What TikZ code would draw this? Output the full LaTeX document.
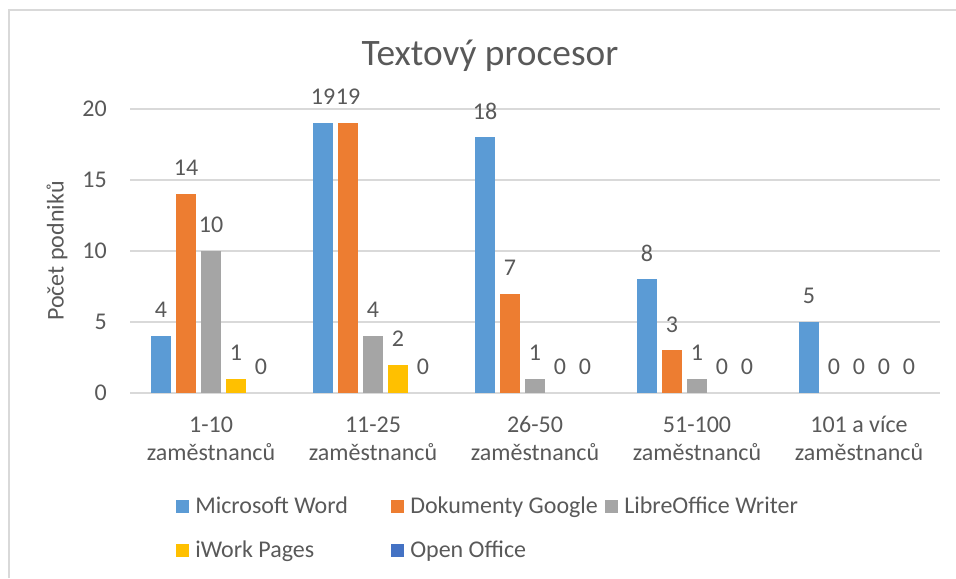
\documentclass[tikz,border=0pt]{standalone}
\usepackage{fontspec}
\setmainfont{Carlito}

\definecolor{txtgray}{HTML}{595959}
\definecolor{gridgray}{HTML}{D9D9D9}
\definecolor{wordblue}{HTML}{5B9BD5}
\definecolor{googleorange}{HTML}{ED7D31}
\definecolor{libregray}{HTML}{A5A5A5}
\definecolor{iworkgold}{HTML}{FFC000}
\definecolor{ooblue}{HTML}{4472C4}

\tikzset{
  val/.style={text=txtgray, font=\fontsize{18}{20}\selectfont, inner sep=0pt},
  cat/.style={text=txtgray, font=\fontsize{18}{20.8}\selectfont, align=center, inner sep=0pt},
  leg/.style={text=txtgray, font=\fontsize{18}{20}\selectfont, inner sep=0pt, anchor=base west},
  gridline/.style={gridgray, line width=1.1pt}
}

\begin{document}
\begin{tikzpicture}[x=0.75pt, y=-0.75pt]
      \useasboundingbox (0,0) rectangle (956,578);
      \draw[gridgray, line width=0.8pt] (9,578) -- (9,10) -- (956,10);

      % title and axes
      \node[text=txtgray, font=\fontsize{28}{32}\selectfont, inner sep=0pt, anchor=base] (title) at (490,65) {Textový procesor};
      \node[val, rotate=90] (ytitle) at (57,251) {Počet podniků};

      \draw[gridline] (130,393) -- (940,393);
      \draw[gridline] (130,322) -- (940,322);
      \draw[gridline] (130,251) -- (940,251);
      \draw[gridline] (130,180) -- (940,180);
      \draw[gridline] (130,109) -- (940,109);
      \node[val, anchor=east] (y0) at (107,393) {0};
      \node[val, anchor=east] (y5) at (107,322) {5};
      \node[val, anchor=east] (y10) at (107,251) {10};
      \node[val, anchor=east] (y15) at (107,180) {15};
      \node[val, anchor=east] (y20) at (107,109) {20};


      % 1-10 zamestnancu
      \fill[wordblue] (151.25,393) rectangle (170.75,336.2);
      \node[val] (mw1) at (161,310.2) {4};
      \fill[googleorange] (176.25,393) rectangle (195.75,194.2);
      \node[val] (dg1) at (186,168.2) {14};
      \fill[libregray] (201.25,393) rectangle (220.75,251);
      \node[val] (lo1) at (211,225) {10};
      \fill[iworkgold] (226.25,393) rectangle (245.75,378.8);
      \node[val] (iw1) at (236,352.8) {1};
      \node[val] (oo1) at (261,367) {0};
      \node[cat] (c1) at (211,438.5) {1-10\\zaměstnanců};

      % 11-25 zamestnancu
      \fill[wordblue] (313.25,393) rectangle (332.75,123.2);
      \node[val] (mw2) at (323,97.2) {19};
      \fill[googleorange] (338.25,393) rectangle (357.75,123.2);
      \node[val] (dg2) at (348,97.2) {19};
      \fill[libregray] (363.25,393) rectangle (382.75,336.2);
      \node[val] (lo2) at (373,310.2) {4};
      \fill[iworkgold] (388.25,393) rectangle (407.75,364.6);
      \node[val] (iw2) at (398,338.6) {2};
      \node[val] (oo2) at (423,367) {0};
      \node[cat] (c2) at (373,438.5) {11-25\\zaměstnanců};

      % 26-50 zamestnancu
      \fill[wordblue] (475.25,393) rectangle (494.75,137.4);
      \node[val] (mw3) at (485,111.4) {18};
      \fill[googleorange] (500.25,393) rectangle (519.75,293.6);
      \node[val] (dg3) at (510,267.6) {7};
      \fill[libregray] (525.25,393) rectangle (544.75,378.8);
      \node[val] (lo3) at (535,352.8) {1};
      \node[val] (iw3) at (560,367) {0};
      \node[val] (oo3) at (585,367) {0};
      \node[cat] (c3) at (535,438.5) {26-50\\zaměstnanců};

      % 51-100 zamestnancu
      \fill[wordblue] (637.25,393) rectangle (656.75,279.4);
      \node[val] (mw4) at (647,253.4) {8};
      \fill[googleorange] (662.25,393) rectangle (681.75,350.4);
      \node[val] (dg4) at (672,324.4) {3};
      \fill[libregray] (687.25,393) rectangle (706.75,378.8);
      \node[val] (lo4) at (697,352.8) {1};
      \node[val] (iw4) at (722,367) {0};
      \node[val] (oo4) at (747,367) {0};
      \node[cat] (c4) at (697,438.5) {51-100\\zaměstnanců};

      % 101 a vice
      \fill[wordblue] (799.25,393) rectangle (818.75,322);
      \node[val] (mw5) at (809,296) {5};
      \node[val] (dg5) at (834,367) {0};
      \node[val] (lo5) at (859,367) {0};
      \node[val] (iw5) at (884,367) {0};
      \node[val] (oo5) at (909,367) {0};
      \node[cat] (c5) at (859,438.5) {101 a více\\zaměstnanců};


      % legend
      \fill[wordblue] (176,500) rectangle (189,513);
      \node[leg] (lgword) at (195,513) {Microsoft Word};
      \fill[googleorange] (391,500) rectangle (404,513);
      \node[leg] (lggoogle) at (410,513) {Dokumenty Google};
      \fill[libregray] (605,500) rectangle (618,513);
      \node[leg] (lglibre) at (624,513) {LibreOffice Writer};
      \fill[iworkgold] (176,544) rectangle (189,557);
      \node[leg] (lgiwork) at (195,557) {iWork Pages};
      \fill[ooblue] (391,544) rectangle (404,557);
      \node[leg] (lgoo) at (410,557) {Open Office};
    \end{tikzpicture}
\end{document}
